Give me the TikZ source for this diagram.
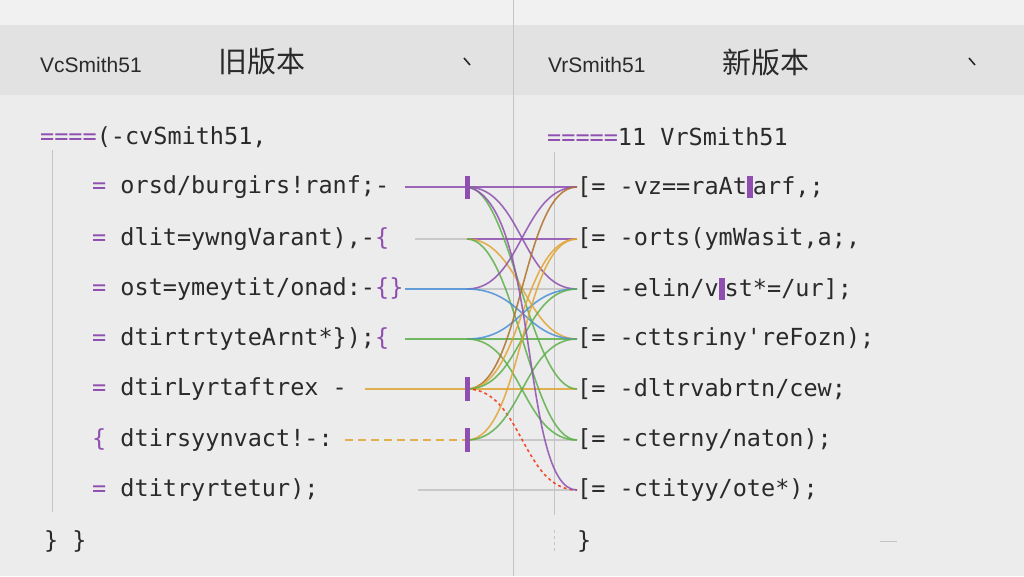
\documentclass[tikz,border=0pt]{standalone}
\usepackage{fontspec}
\setmainfont{Liberation Sans}
\newfontfamily\code{DejaVu Sans Mono}
\newfontfamily\cjk{Noto Sans CJK SC}
\definecolor{bg}{HTML}{ECECEC}
\definecolor{hdr}{HTML}{E2E2E2}
\definecolor{pur}{HTML}{8E4FB0}
\definecolor{grn}{HTML}{5DB04A}
\definecolor{blu}{HTML}{4A90D6}
\definecolor{org}{HTML}{E0A535}
\definecolor{brn}{HTML}{B0702A}
\definecolor{gry}{HTML}{C4C4C4}
\definecolor{txt}{HTML}{2A2A2A}
\begin{document}
\begin{tikzpicture}[x=1pt,y=-1pt,
  code/.style={anchor=west,inner sep=0,font=\code\fontsize{23.5}{25}\selectfont,text=txt},
  head/.style={anchor=west,inner sep=0,font=\fontsize{21}{23}\selectfont,text=txt},
  cjkh/.style={anchor=west,inner sep=0,font=\cjk\fontsize{29}{31}\selectfont,text=txt},
  wire/.style={line width=1.8pt,opacity=0.85},
  tick/.style={line width=5pt,pur},
  guide/.style={gry,line width=1pt}]
\useasboundingbox (0,0) rectangle (1024,576);
\fill[bg] (0,0) rectangle (1024,576);
\fill[hdr] (0,25) rectangle (1024,95);
\fill[white,opacity=0.3] (0,0) rectangle (1024,25);
\draw[guide,line width=0.8pt] (513,0) -- (513,576);
% headers
\node[head] (h1) at (40,65) {VcSmith51};
\node[cjkh] (c1) at (218,62) {旧版本};
\coordinate (v1a) at (464,58); \coordinate (v1b) at (470,65);
\draw[txt,line width=1.6pt] (v1a) -- (v1b);
\node[head] (h2) at (548,65) {VrSmith51};
\node[cjkh] (c2) at (722,62) {新版本};
\coordinate (v2a) at (969,58); \coordinate (v2b) at (975,65);
\draw[txt,line width=1.6pt] (v2a) -- (v2b);
% guides
\draw[guide] (52,150) -- (52,512);
\draw[guide] (554,152) -- (554,515);
\draw[guide,dashed] (554,530) -- (554,552);
\draw[guide] (880,541) -- (897,541);
% left code
\node[code] (l0) at (40,137) {\textcolor{pur}{====}(-cvSmith51,};
\node[code] (l1) at (92,187) {\textcolor{pur}{=} orsd/burgirs!ranf;-};
\node[code] (l2) at (92,239) {\textcolor{pur}{=} dlit=ywngVarant),-\textcolor{pur}{\{}};
\node[code] (l3) at (92,289) {\textcolor{pur}{=} ost=ymeytit/onad:-\textcolor{pur}{\{\}}};
\node[code] (l4) at (92,339) {\textcolor{pur}{=} dtirtrtyteArnt*\});\textcolor{pur}{\{}};
\node[code] (l5) at (92,389) {\textcolor{pur}{=} dtirLyrtaftrex -};
\node[code] (l6) at (92,440) {\textcolor{pur}{\{} dtirsyynvact!-:};
\node[code] (l7) at (92,490) {\textcolor{pur}{=} dtitryrtetur);};
\node[code] (l8) at (44,541) {\}~\}};
% right code
\node[code] (r0) at (547,137) {\textcolor{pur}{=====}11 VrSmith51};
\node[code] (r1) at (577,187) {[= -vz==raAt\textcolor{pur}{\rule[-3pt]{6pt}{22pt}}arf,;};
\node[code] (r2) at (577,239) {[= -orts(ymWasit,a;,};
\node[code] (r3) at (577,289) {[= -elin/v\textcolor{pur}{\rule[-3pt]{6pt}{22pt}}st*=/ur];};
\node[code] (r4) at (577,339) {[= -cttsriny'reFozn);};
\node[code] (r5) at (577,389) {[= -dltrvabrtn/cew;};
\node[code] (r6) at (577,440) {[= -cterny/naton);};
\node[code] (r7) at (577,490) {[= -ctityy/ote*);};
\node[code] (r8) at (577,541) {\}};
% wire anchors
\foreach \i/\y in {1/187,2/239,3/289,4/339,5/389,6/440,7/490}{
  \coordinate (L\i) at (467,\y);
  \coordinate (R\i) at (577,\y);
}
\coordinate (S1) at (405,187);
\coordinate (S2) at (415,239);
\coordinate (S3) at (405,289);
\coordinate (S4) at (405,339);
\coordinate (S5) at (365,389);
\coordinate (S6) at (345,440);
\coordinate (S7) at (418,490);
% left stubs
\draw[wire,pur] (S1) -- (L1);
\draw[wire,gry] (S2) -- (L2);
\draw[wire,blu] (S3) -- (L3);
\draw[wire,grn] (S4) -- (L4);
\draw[wire,org] (S5) -- (L5);
\draw[wire,org,dashed,dash pattern=on 8pt off 5pt] (S6) -- (L6);
\draw[wire,gry] (S7) -- (L7);
% straight crossings
\draw[wire,pur] (L1) -- (R1);
\draw[wire,pur] (L2) -- (R2);
\draw[wire,gry] (L3) -- (R3);
\draw[wire,grn] (L4) -- (R4);
\draw[wire,org] (L5) -- (R5);
\draw[wire,gry] (L6) -- (R6);
\draw[wire,gry] (L7) -- (R7);
% curves
\tikzset{cv/.style={wire,line width=1.6pt}}
\draw[cv,pur] (L1) .. controls (522,187) and (522,289) .. (R3);
\draw[cv,grn] (L1) .. controls (510,187) and (530,389) .. (R5);
\draw[cv,org] (L2) .. controls (520,239) and (525,339) .. (R4);
\draw[cv,grn] (L2) .. controls (515,239) and (530,440) .. (R6);
\draw[cv,pur] (L3) .. controls (522,289) and (522,187) .. (R1);
\draw[cv,blu] (L3) .. controls (522,289) and (525,339) .. (R4);
\draw[cv,blu] (L4) .. controls (522,339) and (522,289) .. (R3);
\draw[cv,grn] (L4) .. controls (522,339) and (522,440) .. (R6);
\draw[cv,brn] (L5) .. controls (522,389) and (522,187) .. (R1);
\draw[cv,org] (L5) .. controls (522,389) and (522,239) .. (R2);
\draw[cv,grn] (L5) .. controls (522,389) and (522,289) .. (R3);
\draw[cv,red!70!org,dashed] (L5) .. controls (522,389) and (522,490) .. (R7);
\draw[cv,org] (L6) .. controls (522,440) and (522,239) .. (R2);
\draw[cv,grn] (L6) .. controls (522,440) and (522,339) .. (R4);
\draw[cv,pur] (L1) .. controls (540,200) and (520,490) .. (R7);
% markers
\draw[tick] (467,176) -- (467,199);
\draw[tick] (467,377) -- (467,401);
\draw[tick] (467,428) -- (467,452);
\end{tikzpicture}
\end{document}
